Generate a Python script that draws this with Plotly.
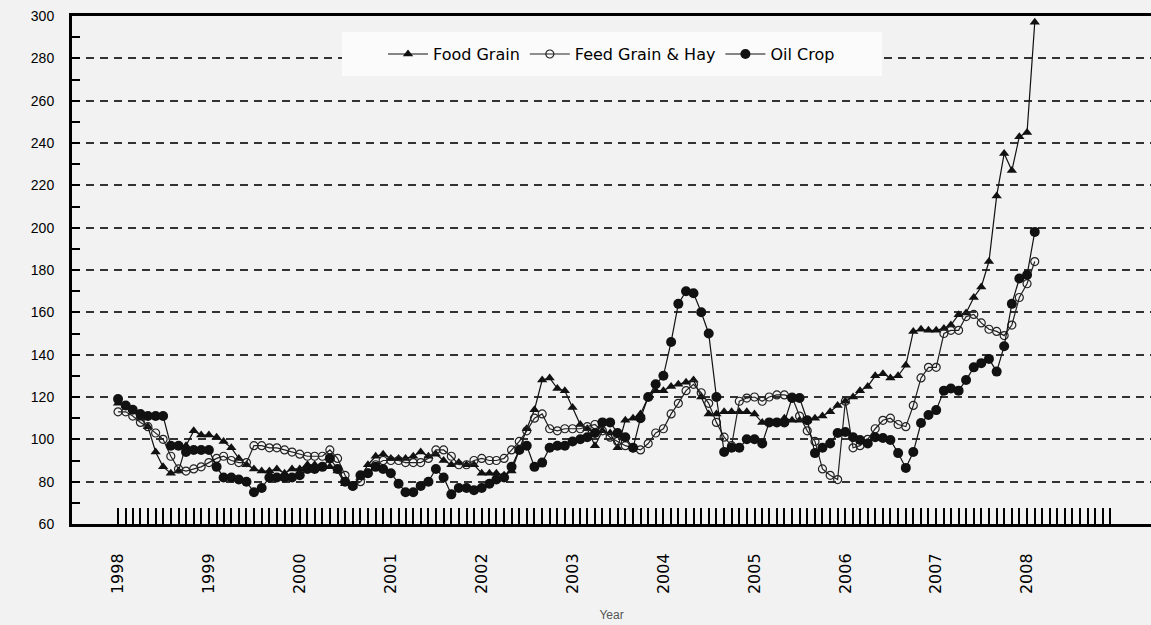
import pandas as pd
import plotly.graph_objects as go

# monthly, Jan 1998 - Feb 2008
months = pd.date_range("1998-01-01", periods=122, freq="MS")

food_grain = [
    117, 116, 114, 110, 106, 94, 87, 84, 85, 97, 104, 102,  # 1998
    102, 101, 99, 96, 91, 88, 86, 85, 85, 86, 84, 86,  # 1999
    86, 88, 88, 87, 87, 85, 79, 78, 82, 88, 92, 93,  # 2000
    91, 91, 91, 92, 94, 92, 93, 90, 88, 89, 88, 88,  # 2001
    84, 84, 84, 83, 85, 95, 105, 114, 128, 129, 124, 123,  # 2002
    115, 107, 105, 97, 104, 103, 96, 109, 110, 112, 120, 123,  # 2003
    123, 125, 126, 127, 128, 120, 112, 112, 113, 113, 113, 113,  # 2004
    112, 108, 108, 108, 110, 109, 109, 109, 110, 111, 113, 116,  # 2005
    118, 120, 123, 125, 130, 131, 129, 130, 135, 151, 152, 151.5,  # 2006
    151.5, 152.4, 154, 158.9, 159.7, 167, 172, 184, 215, 235, 227, 243,  # 2007
    245, 297,  # 2008
]

feed_grain_hay = [
    113, 113, 111, 108, 106, 103, 100, 92, 86, 85, 86, 87,  # 1998
    89, 91, 92, 90, 89, 89, 97, 97, 96, 96, 95, 94,  # 1999
    93, 92, 92, 92, 95, 91, 83, 78, 80, 84, 88, 90,  # 2000
    90, 90, 89, 89, 89, 91, 95, 95, 92, 88, 88, 90,  # 2001
    91, 90, 90, 91, 95, 99, 104, 110, 112, 105, 104, 105,  # 2002
    105, 105, 106, 107, 104, 101, 99, 97, 96, 95, 98, 103,  # 2003
    105, 112, 117, 123, 126, 122, 117, 108, 101, 97, 118, 119.5,  # 2004
    120, 118, 120, 121, 121, 120, 111, 104, 99, 86, 83, 81,  # 2005
    118, 96, 97, 100, 105, 109, 110, 107, 106, 116, 129, 134,  # 2006
    134, 150, 151.5, 151.5, 158, 159, 155, 152, 151, 149, 154, 167,  # 2007
    173.5, 184,  # 2008
]

oil_crop = [
    119, 116, 114, 112, 111, 111, 111, 97, 97, 94, 95, 95,  # 1998
    95, 87, 82, 82, 81, 80, 75, 77, 82, 82, 82, 82,  # 1999
    83, 86, 86, 87, 91, 86, 80, 78, 83, 84, 87, 86,  # 2000
    84, 79, 75, 75, 78, 80, 86, 82, 74, 77, 77, 76,  # 2001
    77, 79, 81, 82, 87, 95, 97, 87, 89, 96, 97, 97,  # 2002
    99, 100, 101, 103, 108, 108, 103, 101, 96, 110, 120, 126,  # 2003
    130, 146, 164, 170, 169, 160, 150, 120, 94, 96, 96, 100,  # 2004
    100, 98, 108, 108, 108, 119.5, 119.5, 109, 93.5, 96, 98, 103,  # 2005
    103.5, 101, 99.7, 98, 101, 100.6, 99.7, 93.5, 86.5, 94, 107.7, 111.5,  # 2006
    113.8, 123, 124, 123, 128, 134, 136, 138, 132, 144, 164, 176,  # 2007
    177.6, 198,  # 2008
]

tick_months = pd.date_range("1998-01-01", "2008-12-01", freq="MS")
tick_text = [str(d.year) if d.month == 1 else "" for d in tick_months]

fig = go.Figure()

fig.add_trace(
    go.Scatter(
        x=months,
        y=food_grain,
        name="Food Grain",
        mode="lines+markers",
        line=dict(color="#111", width=1.2),
        marker=dict(symbol="triangle-up", size=9, color="#111"),
    )
)
fig.add_trace(
    go.Scatter(
        x=months,
        y=feed_grain_hay,
        name="Feed Grain & Hay",
        mode="lines+markers",
        line=dict(color="#222", width=1.2),
        marker=dict(symbol="circle-open", size=8, color="#222", line=dict(width=1.2)),
    )
)
fig.add_trace(
    go.Scatter(
        x=months,
        y=oil_crop,
        name="Oil Crop",
        mode="lines+markers",
        line=dict(color="#111", width=1.2),
        marker=dict(symbol="circle", size=10, color="#111"),
    )
)

# white box behind the legend (legend itself has no padding control)
fig.add_shape(
    type="rect",
    xref="paper",
    yref="paper",
    x0=0.2502,
    x1=0.7507,
    y0=0.8819,
    y1=0.9685,
    fillcolor="#fbfbfb",
    line=dict(width=0),
    layer="above",
)

fig.update_layout(
    width=1151,
    height=625,
    margin=dict(l=72, r=0, t=16, b=101),
    paper_bgcolor="#f2f2f2",
    plot_bgcolor="#f2f2f2",
    font=dict(family="Liberation Sans, Arial, sans-serif", size=14, color="#000"),
    showlegend=True,
    legend=dict(
        orientation="h",
        x=0.5,
        xanchor="center",
        y=0.925,
        yanchor="middle",
        bgcolor="rgba(0,0,0,0)",
        font=dict(family="DejaVu Sans, sans-serif", size=16),
        itemwidth=40,
    ),
    xaxis=dict(
        range=["1997-06-30", "2009-05-13"],
        tickmode="array",
        tickvals=tick_months,
        ticktext=tick_text,
        tickangle=-90,
        tickfont=dict(family="DejaVu Sans, sans-serif", size=16),
        ticks="inside",
        ticklen=16,
        tickwidth=1.5,
        tickcolor="#000",
        ticklabelstandoff=20,
        showgrid=False,
        showline=True,
        linewidth=3,
        linecolor="#000",
        mirror=True,
        zeroline=False,
        title=dict(text="Year", font=dict(size=12, color="#555"), standoff=18),
    ),
    yaxis=dict(
        range=[60, 300],
        tickmode="linear",
        tick0=60,
        dtick=20,
        ticks="inside",
        ticklen=8,
        tickwidth=1.5,
        tickcolor="#000",
        ticklabelstandoff=12,
        minor=dict(ticks="inside", dtick=10, ticklen=8, tickwidth=1.5, tickcolor="#000"),
        showgrid=True,
        gridcolor="#333",
        gridwidth=1.5,
        griddash="8px,6px",
        showline=True,
        linewidth=3,
        linecolor="#000",
        zeroline=False,
    ),
)

fig.write_html(
    "out.html",
    config={"displayModeBar": False},
    post_script="document.body.style.margin='0px';",
)
